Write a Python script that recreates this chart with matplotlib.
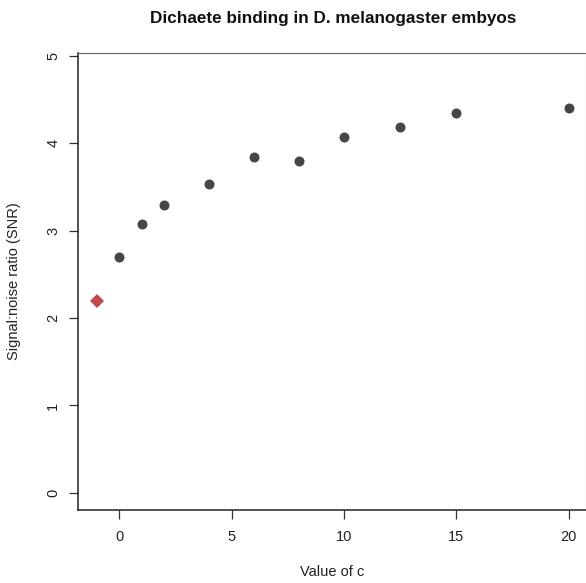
import matplotlib
matplotlib.use("Agg")
import matplotlib.pyplot as plt

plt.rcParams['font.family'] = ['Liberation Sans', 'DejaVu Sans']

# SNR for each value of c
c_values = [0, 1, 2, 4, 6, 8, 10, 12.5, 15, 20]
snr = [2.70, 3.08, 3.29, 3.53, 3.84, 3.80, 4.07, 4.18, 4.35, 4.40]
# highlighted point
c_best = [-1]
snr_best = [2.20]

x_ticks = [0, 5, 10, 15, 20]
y_ticks = [0, 1, 2, 3, 4, 5]

fig = plt.figure(figsize=(5.86, 5.83), dpi=100)
ax = fig.add_axes([0.1326, 0.1252, 0.8674, 0.7844])

ax.plot(c_values, snr, 'o', color='#464646', markersize=7.2, markeredgewidth=0)
ax.plot(c_best, snr_best, 'D', color='#c0474a', markersize=6.8, markeredgewidth=0)

ax.set_xlim(-1.84, 20.76)
ax.set_ylim(-0.195, 5.034)
ax.set_xticks(x_ticks)
ax.set_yticks(y_ticks)
ax.tick_params(axis='both', direction='out', length=6.5, width=0.9, color='#333333',
               labelsize=10.5, labelcolor='#222222')
ax.tick_params(axis='x', pad=8)
ax.tick_params(axis='y', pad=6)
for lab in ax.get_yticklabels():
    lab.set_rotation(90)
    lab.set_va('center')

for s in ['top', 'right']:
    ax.spines[s].set_color('#666666')
for s in ['left', 'bottom']:
    ax.spines[s].set_color('#222222')
    ax.spines[s].set_linewidth(1.1)

ax.set_xlabel('Value of c', fontsize=10.5, labelpad=15, color='#222222')
ax.set_ylabel('Signal:noise ratio (SNR)', fontsize=10.5, labelpad=18, color='#222222')
fig.text(333 / 586, 1 - 18 / 583, 'Dichaete binding in D. melanogaster embyos',
         ha='center', va='center', fontsize=12.3, fontweight='bold', color='#111111')

fig.savefig('out.png', dpi=100)
